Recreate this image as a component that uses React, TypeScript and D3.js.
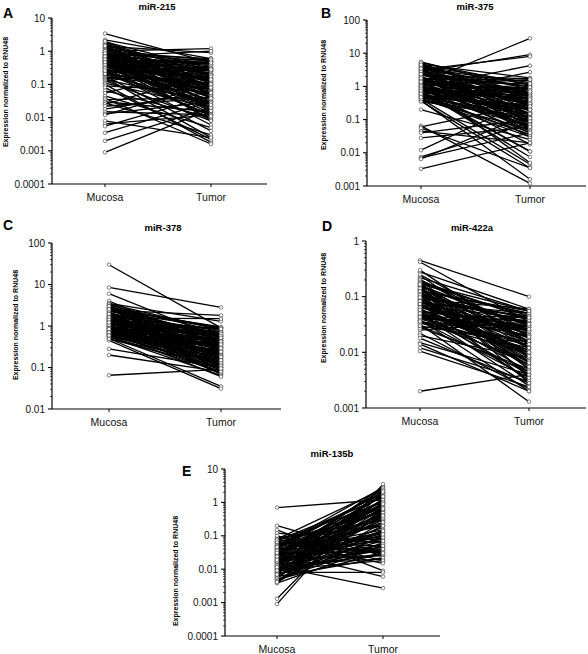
import React from "react";
import * as d3 from "d3";

const categories = ["Mucosa", "Tumor"];

// miR-215
const mir215Mucosa = [3.4, 2.2, 1.9, 1.6, 1.4, 1.2, 1.1, 1.0, 0.95, 0.9, 0.85, 0.8, 0.75, 0.7, 0.68, 0.65, 0.6, 0.58, 0.55, 0.52, 0.5, 0.48, 0.45, 0.43, 0.4, 0.38, 0.36, 0.34, 0.32, 0.3, 0.29, 0.27, 0.26, 0.25, 0.23, 0.22, 0.2, 0.19, 0.18, 0.17, 0.16, 0.15, 0.14, 0.13, 0.12, 0.11, 0.1, 0.09, 0.08, 0.065, 0.055, 0.045, 0.038, 0.035, 0.03, 0.028, 0.025, 0.022, 0.018, 0.015, 0.013, 0.012, 0.008, 0.0065, 0.0055, 0.0035, 0.002, 0.0009, 1.3, 0.62, 0.42, 0.33, 0.24, 0.21, 0.7, 0.9, 1.7, 0.55,
  1.8, 1.5, 1.25, 1.05, 0.92, 0.82, 0.72, 0.66, 0.57, 0.5, 0.46, 0.41, 0.37, 0.31, 0.28, 0.24, 0.21, 1.15, 0.98, 0.88, 0.78, 0.63, 0.53, 0.44, 0.39, 0.35, 1.35, 1.0, 0.74, 0.6, 0.49, 0.4, 0.3, 0.26, 2.0, 1.45, 0.86, 0.69, 0.56, 0.47];
const mir215Tumor = [0.45, 0.6, 0.3, 0.15, 0.9, 0.08, 0.35, 1.2, 0.05, 0.25, 0.5, 0.03, 0.12, 1.0, 0.2, 0.07, 0.4, 0.015, 0.1, 0.3, 0.04, 0.18, 0.6, 0.009, 0.06, 0.25, 0.02, 0.14, 0.45, 0.035, 0.09, 0.006, 0.2, 0.012, 0.05, 0.3, 0.025, 0.11, 0.004, 0.07, 0.0025, 0.15, 0.03, 0.008, 0.5, 0.02, 0.0018, 0.06, 0.0022, 0.01, 0.35, 0.005, 0.0016, 0.04, 0.015, 0.003, 0.2, 0.04, 0.06, 0.012, 0.03, 0.1, 0.0025, 0.012, 0.045, 0.03, 0.02, 0.018, 0.04, 0.008, 0.16, 0.07, 0.28, 0.09, 0.22, 0.6, 0.12, 0.03,
  0.2, 0.05, 0.4, 0.025, 0.11, 0.3, 0.018, 0.08, 0.22, 0.013, 0.5, 0.045, 0.15, 0.027, 0.07, 0.35, 0.012, 0.09, 0.55, 0.016, 0.19, 0.04, 0.26, 0.022, 0.1, 0.06, 0.13, 0.038, 0.4, 0.02, 0.075, 0.3, 0.011, 0.17, 0.08, 0.28, 0.055, 0.14, 0.024, 0.45];

// miR-375
const mir375Mucosa = [5.5, 5.0, 4.6, 4.2, 4.0, 3.6, 3.3, 3.0, 2.8, 2.6, 2.4, 2.2, 2.0, 1.9, 1.8, 1.7, 1.6, 1.5, 1.4, 1.3, 1.25, 1.2, 1.1, 1.05, 1.0, 0.95, 0.9, 0.85, 0.8, 0.75, 0.7, 0.68, 0.65, 0.6, 0.58, 0.55, 0.5, 0.48, 0.45, 0.42, 0.4, 0.38, 0.36, 0.35, 0.2, 0.065, 0.06, 0.055, 0.045, 0.04, 0.028, 0.012, 0.0075, 0.007, 0.0065, 0.0033, 3.2, 2.1, 1.15, 0.72, 4.4, 2.5, 1.35, 0.92, 0.62, 0.52, 1.8, 3.8, 0.44, 0.78,
  4.8, 4.1, 3.5, 3.1, 2.7, 2.3, 1.95, 1.65, 1.45, 1.28, 1.08, 0.98, 0.88, 0.8, 0.7, 0.63, 0.56, 0.5, 0.46, 0.41, 5.2, 3.9, 2.9, 2.0, 1.55, 1.18, 0.96, 0.83, 0.66, 0.53, 4.5, 3.4, 2.35, 1.75, 1.38, 1.02, 0.86, 0.74, 0.6, 0.47];
const mir375Tumor = [0.8, 0.3, 1.8, 0.1, 0.5, 1.2, 0.05, 0.25, 9.0, 0.7, 0.15, 1.0, 0.04, 0.4, 0.09, 1.5, 0.2, 0.6, 0.03, 0.35, 28, 0.12, 0.9, 0.06, 0.3, 4.2, 0.018, 0.5, 0.08, 1.1, 0.2, 0.011, 0.45, 0.07, 2.7, 0.25, 0.035, 0.7, 0.15, 0.0045, 0.05, 0.0016, 0.0035, 0.12, 0.025, 0.0012, 0.3, 0.0035, 0.02, 0.1, 0.06, 0.4, 0.08, 0.04, 0.15, 0.02, 8.0, 1.7, 0.005, 0.0075, 0.6, 0.09, 0.55, 0.16, 0.9, 0.1, 0.28, 0.2, 0.03, 0.011,
  0.4, 1.3, 0.08, 0.6, 0.18, 1.0, 0.045, 0.3, 0.7, 0.12, 1.6, 0.22, 0.065, 0.5, 0.14, 0.9, 0.035, 0.28, 0.6, 0.09, 1.1, 0.25, 0.5, 0.07, 0.35, 0.8, 0.15, 0.04, 0.45, 0.2, 0.15, 0.95, 0.3, 0.055, 1.2, 0.11, 0.4, 0.7, 0.06, 0.25];

// miR-378
const mir378Mucosa = [30, 8.5, 6.0, 4.0, 3.5, 3.2, 3.0, 2.8, 2.6, 2.4, 2.2, 2.0, 1.9, 1.8, 1.7, 1.6, 1.5, 1.4, 1.35, 1.3, 1.2, 1.15, 1.1, 1.05, 1.0, 0.95, 0.9, 0.88, 0.85, 0.8, 0.78, 0.75, 0.72, 0.7, 0.68, 0.65, 0.62, 0.6, 0.58, 0.55, 0.52, 0.5, 0.48, 0.45, 0.28, 0.2, 0.065, 2.5, 1.25, 0.92, 1.65, 3.3, 2.1, 1.45, 0.82, 0.66, 1.02, 1.75, 2.7, 0.57, 1.12, 0.74, 1.55, 0.96,
  3.4, 3.1, 2.9, 2.65, 2.45, 2.25, 2.05, 1.85, 1.72, 1.58, 1.48, 1.38, 1.28, 1.18, 1.08, 0.98, 0.93, 0.86, 0.79, 0.73, 0.67, 0.61, 0.56, 0.53, 0.49, 2.35, 1.95, 1.62, 1.33, 1.07, 0.89, 0.76, 0.64, 3.0, 2.55, 1.42, 1.22, 0.84, 0.7, 0.59];
const mir378Tumor = [0.9, 2.8, 0.5, 0.3, 1.3, 0.7, 0.15, 0.9, 0.4, 1.8, 0.25, 0.6, 0.1, 0.8, 0.35, 0.2, 0.5, 0.07, 0.65, 0.3, 0.12, 0.9, 0.45, 0.18, 0.28, 0.085, 0.6, 0.22, 0.4, 0.13, 0.75, 0.3, 0.08, 0.5, 0.16, 0.25, 0.1, 0.45, 0.2, 0.065, 0.35, 0.035, 0.14, 0.031, 0.1, 0.08, 0.09, 0.95, 0.55, 0.07, 0.11, 0.45, 0.17, 0.26, 0.19, 0.38, 0.09, 0.7, 0.55, 0.12, 0.33, 0.06, 1.5, 0.42,
  0.8, 0.2, 0.55, 0.12, 0.35, 0.9, 0.15, 0.48, 0.09, 0.3, 0.7, 0.21, 0.4, 0.11, 0.6, 0.16, 0.32, 0.075, 0.5, 0.23, 0.14, 0.38, 0.08, 0.27, 0.1, 0.65, 0.13, 0.42, 0.19, 0.85, 0.11, 0.29, 0.17, 0.36, 0.18, 0.58, 0.095, 0.24, 0.52, 0.15];

// miR-422a
const mir422aMucosa = [0.45, 0.42, 0.28, 0.24, 0.22, 0.2, 0.18, 0.17, 0.16, 0.15, 0.14, 0.13, 0.12, 0.11, 0.1, 0.095, 0.09, 0.085, 0.08, 0.075, 0.07, 0.065, 0.06, 0.055, 0.05, 0.048, 0.045, 0.042, 0.04, 0.037, 0.035, 0.032, 0.03, 0.028, 0.025, 0.022, 0.02, 0.018, 0.015, 0.014, 0.012, 0.0105, 0.002, 0.25, 0.19, 0.135, 0.105, 0.078, 0.062, 0.052, 0.044, 0.038, 0.034, 0.027, 0.155, 0.115, 0.088, 0.068, 0.057, 0.046, 0.3, 0.21, 0.125, 0.072,
  0.2, 0.185, 0.17, 0.16, 0.145, 0.13, 0.12, 0.11, 0.1, 0.092, 0.085, 0.078, 0.071, 0.065, 0.059, 0.054, 0.049, 0.045, 0.041, 0.037, 0.033, 0.03, 0.175, 0.14, 0.108, 0.083, 0.064, 0.05, 0.039, 0.165, 0.125, 0.097, 0.074, 0.058, 0.043, 0.036];
const mir422aTumor = [0.1, 0.035, 0.06, 0.012, 0.055, 0.025, 0.005, 0.045, 0.015, 0.03, 0.008, 0.05, 0.02, 0.004, 0.035, 0.012, 0.06, 0.007, 0.025, 0.003, 0.04, 0.016, 0.009, 0.03, 0.0025, 0.02, 0.006, 0.045, 0.011, 0.0035, 0.025, 0.0013, 0.014, 0.005, 0.035, 0.0022, 0.008, 0.0028, 0.004, 0.002, 0.003, 0.0024, 0.004, 0.022, 0.04, 0.0065, 0.018, 0.05, 0.0045, 0.013, 0.028, 0.002, 0.01, 0.045, 0.0028, 0.033, 0.0075, 0.022, 0.0032, 0.015, 0.015, 0.0035, 0.055, 0.01,
  0.02, 0.04, 0.008, 0.03, 0.012, 0.05, 0.005, 0.025, 0.04, 0.009, 0.018, 0.045, 0.006, 0.028, 0.011, 0.035, 0.004, 0.02, 0.015, 0.007, 0.03, 0.0045, 0.055, 0.016, 0.032, 0.0065, 0.024, 0.01, 0.038, 0.014, 0.0055, 0.042, 0.019, 0.0085, 0.026, 0.012];

// miR-135b
const mir135bMucosa = [0.7, 0.2, 0.15, 0.12, 0.09, 0.08, 0.075, 0.07, 0.065, 0.06, 0.055, 0.05, 0.045, 0.042, 0.04, 0.037, 0.035, 0.032, 0.03, 0.028, 0.026, 0.024, 0.022, 0.02, 0.019, 0.018, 0.017, 0.016, 0.015, 0.014, 0.013, 0.012, 0.011, 0.01, 0.0095, 0.009, 0.0085, 0.008, 0.0075, 0.007, 0.0065, 0.006, 0.0055, 0.005, 0.0045, 0.004, 0.0038, 0.0013, 0.0009, 0.1, 0.058, 0.048, 0.034, 0.027, 0.021, 0.016, 0.0125, 0.0105, 0.0078, 0.0058, 0.0048, 0.068, 0.038, 0.025,
  0.078, 0.072, 0.062, 0.052, 0.044, 0.039, 0.033, 0.029, 0.026, 0.023, 0.0205, 0.0185, 0.0165, 0.015, 0.0135, 0.012, 0.011, 0.0098, 0.0088, 0.008, 0.0072, 0.0066, 0.006, 0.0054, 0.0049, 0.0044, 0.0041, 0.05, 0.036, 0.024, 0.017, 0.0128, 0.0092, 0.0069, 0.046, 0.031, 0.019, 0.0115];
const mir135bTumor = [1.2, 0.025, 0.009, 0.06, 0.2, 2.5, 0.03, 1.0, 0.5, 0.08, 1.5, 0.3, 0.7, 0.04, 2.0, 0.15, 0.006, 0.9, 0.4, 0.05, 1.2, 0.1, 0.6, 0.025, 0.25, 3.0, 0.035, 0.8, 0.12, 0.02, 0.5, 0.0027, 0.07, 1.8, 0.018, 0.3, 0.04, 0.008, 1.0, 0.06, 0.2, 0.022, 0.7, 0.03, 0.15, 0.45, 0.05, 2.2, 3.5, 0.018, 0.09, 2.8, 0.35, 1.6, 0.045, 0.13, 0.9, 0.028, 0.4, 1.3, 0.1, 0.015, 0.55, 2.4,
  0.3, 1.4, 0.05, 0.8, 2.0, 0.12, 0.6, 0.035, 1.1, 0.25, 2.6, 0.08, 0.45, 1.7, 0.04, 0.7, 0.18, 1.2, 0.03, 0.5, 2.3, 0.09, 0.35, 1.0, 0.06, 0.6, 0.25, 1.9, 0.07, 0.9, 0.14, 2.1, 0.4, 0.05, 0.2, 1.5, 0.65, 0.11];

const panelLetters = ["A", "B", "C", "D", "E"];
const panelTitles = ["miR-215", "miR-375", "miR-378", "miR-422a", "miR-135b"];
const yDomains: [number, number][] = [
  [0.0001, 10],
  [0.001, 100],
  [0.01, 100],
  [0.001, 1],
  [0.0001, 10],
];
const mucosaSeries = [mir215Mucosa, mir375Mucosa, mir378Mucosa, mir422aMucosa, mir135bMucosa];
const tumorSeries = [mir215Tumor, mir375Tumor, mir378Tumor, mir422aTumor, mir135bTumor];
const yAxisTitle = "Expression normalized to RNU48";

// layout (pixel geometry, separate from data)
const layouts = [
  { ax: 52, top: 18, bottom: 184, mx: 105, tx: 211, end: 267, titleX: 157, titleY: 10, letterX: 3, letterY: 18, labelX: 8, labelCY: 92 },
  { ax: 367, top: 20, bottom: 186, mx: 421, tx: 530, end: 586, titleX: 475, titleY: 10, letterX: 321, letterY: 18, labelX: 326, labelCY: 95 },
  { ax: 52, top: 243, bottom: 409, mx: 109, tx: 221, end: 281, titleX: 163, titleY: 231, letterX: 3, letterY: 230, labelX: 18, labelCY: 325 },
  { ax: 366, top: 241, bottom: 408, mx: 420, tx: 529, end: 586, titleX: 472, titleY: 231, letterX: 322, letterY: 231, labelX: 326, labelCY: 308 },
  { ax: 225, top: 469, bottom: 636, mx: 277, tx: 383, end: 440, titleX: 332, titleY: 457, letterX: 182, letterY: 476, labelX: 178, labelCY: 571 },
];

const FONT = "'Liberation Sans', Arial, Helvetica, sans-serif";

function fmt(v: number) {
  return String(+v.toPrecision(1));
}

function Panel({ i }: { i: number }) {
  const L = layouts[i];
  const [lo, hi] = yDomains[i];
  const y = d3.scaleLog().domain([lo, hi]).range([L.bottom, L.top]);
  const x = d3.scalePoint<string>().domain(categories).range([L.mx, L.tx]);
  const e0 = Math.round(Math.log10(lo));
  const e1 = Math.round(Math.log10(hi));
  const majors = d3.range(e0, e1 + 1).map((e) => +Math.pow(10, e).toPrecision(1));
  const minors: number[] = [];
  d3.range(e0, e1).forEach((e) => {
    for (let k = 2; k <= 9; k++) minors.push(k * Math.pow(10, e));
  });
  const m = mucosaSeries[i];
  const t = tumorSeries[i];
  const pairs = m.map((v, j) => [v, t[j]]);
  const line = d3
    .line<[string, number]>()
    .x((d) => x(d[0]) as number)
    .y((d) => y(d[1]));

  return (
    <g>
      <text x={L.letterX} y={L.letterY} fontSize={14} fontWeight="bold" fontFamily={FONT}>
        {panelLetters[i]}
      </text>
      <text x={L.titleX} y={L.titleY} fontSize={9.5} fontWeight="bold" textAnchor="middle" fontFamily={FONT}>
        {panelTitles[i]}
      </text>
      <text
        transform={`translate(${L.labelX},${L.labelCY}) rotate(-90)`}
        fontSize={7}
        fontWeight="bold"
        textAnchor="middle"
        fontFamily={FONT}
      >
        {yAxisTitle}
      </text>
      <line x1={L.ax} x2={L.ax} y1={L.top} y2={L.bottom} stroke="#000" strokeWidth={1.2} />
      <line x1={L.ax} x2={L.end} y1={L.bottom} y2={L.bottom} stroke="#000" strokeWidth={1.2} />
      {minors.map((v, k) => (
        <line key={"mn" + k} x1={L.ax - 2} x2={L.ax} y1={y(v)} y2={y(v)} stroke="#000" strokeWidth={0.7} />
      ))}
      {majors.map((v, k) => (
        <g key={"mj" + k}>
          <line x1={L.ax - 4} x2={L.ax} y1={y(v)} y2={y(v)} stroke="#000" strokeWidth={1.1} />
          <text x={L.ax - 7} y={y(v)} dy="0.35em" fontSize={10} textAnchor="end" fontFamily={FONT} fill="#111">
            {fmt(v)}
          </text>
        </g>
      ))}
      {categories.map((c) => (
        <g key={c}>
          <line x1={x(c)} x2={x(c)} y1={L.bottom} y2={L.bottom + 3} stroke="#000" strokeWidth={1} />
          <text x={x(c)} y={L.bottom + 17} fontSize={10.5} textAnchor="middle" fontFamily={FONT} fill="#111">
            {c}
          </text>
        </g>
      ))}
      {pairs.map((p, k) => (
        <path
          key={"l" + k}
          d={line([
            [categories[0], p[0]],
            [categories[1], p[1]],
          ]) as string}
          stroke="#000"
          strokeWidth={1.3}
          fill="none"
        />
      ))}
      {pairs.map((p, k) => (
        <g key={"c" + k}>
          <circle cx={x(categories[0])} cy={y(p[0])} r={1.8} fill="#fff" stroke="#333" strokeWidth={0.6} />
          <circle cx={x(categories[1])} cy={y(p[1])} r={1.8} fill="#fff" stroke="#333" strokeWidth={0.6} />
        </g>
      ))}
    </g>
  );
}

export default function App() {
  return (
    <svg width={588} height={654} style={{ position: "absolute", left: 0, top: 0, background: "#fff" }}>
      <rect x={0} y={0} width={588} height={654} fill="#fff" />
      {panelLetters.map((_, i) => (
        <Panel key={i} i={i} />
      ))}
    </svg>
  );
}
